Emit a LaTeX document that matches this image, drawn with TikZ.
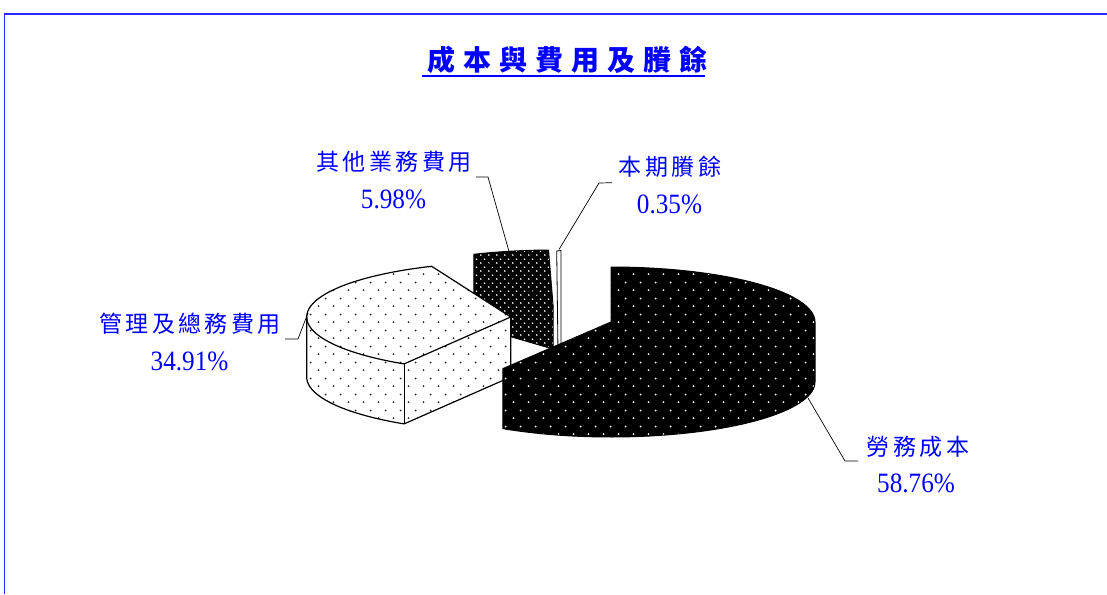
\documentclass[tikz,border=0pt]{standalone}
\usepackage{fontspec}
\usepackage{graphicx}
\usetikzlibrary{patterns,calc}
\newfontfamily\cjkt[LetterSpace=29]{Noto Sans CJK TC}
\newfontfamily\cjkl[LetterSpace=15]{Noto Sans CJK TC}
\newfontfamily\digitfont[FakeStretch=0.9]{Liberation Serif}
\definecolor{lblblue}{RGB}{0,0,255}
\definecolor{frameblue}{RGB}{40,40,255}
\pgfdeclarepatternformonly{sparseDots}{\pgfpointorigin}{\pgfpoint{15pt}{15.6pt}}{\pgfpoint{15pt}{15.6pt}}{%
  \pgfpathcircle{\pgfpoint{3.75pt}{3.9pt}}{1.05pt}%
  \pgfpathcircle{\pgfpoint{11.25pt}{11.7pt}}{1.05pt}%
  \pgfusepath{fill}}
\pgfdeclarepatternformonly{denseDots}{\pgfpointorigin}{\pgfpoint{7.6pt}{7.8pt}}{\pgfpoint{7.6pt}{7.8pt}}{%
  \pgfpathcircle{\pgfpoint{1.9pt}{1.95pt}}{0.95pt}%
  \pgfpathcircle{\pgfpoint{5.7pt}{5.85pt}}{0.95pt}%
  \pgfusepath{fill}}
\begin{document}
\begin{tikzpicture}[x=1pt,y=-1pt,
  lbl/.style={text=lblblue, inner sep=0pt, anchor=base},
  cjklbl/.style={lbl, font=\cjkl\fontsize{23}{23}\selectfont},
  pctlbl/.style={lbl, font=\digitfont\fontsize{28}{28}\selectfont},
  leader/.style={draw=black, line width=0.7pt},
  edge/.style={draw=black, line width=1.2pt, line join=round},
  lightslice/.style={preaction={fill=white}, pattern=sparseDots, pattern color=black!85, draw=black, line width=1.2pt, line join=round},
  darkslice/.style={preaction={fill=black}, pattern=sparseDots, pattern color=white, draw=black, line width=1pt, line join=round},
  otherslice/.style={preaction={fill=black}, pattern=denseDots, pattern color=white, draw=black, line width=1pt, line join=round},
  thinslice/.style={fill=white, draw=black, line width=0.8pt}]
\useasboundingbox (0,0) rectangle (1107,594);
% frame
\coordinate (fbl) at (4.5,594);
\coordinate (ftl) at (4.5,14);
\coordinate (ftr) at (1107,14);
\draw[frameblue, line width=1.3pt] (fbl) -- (ftl) -- (ftr);
% title
\node[lbl, font=\cjkt\bfseries\fontsize{28}{28}\selectfont] (title) at (567.5,70.7) {成本與費用及賸餘};
\coordinate (ul1) at (422,75.5);
\coordinate (ul2) at (705,75.5);
\draw[lblblue, line width=2pt] (ul1) -- (ul2);
% ---- slice: other operating expenses
\def\ox{553}\def\oy{305}
\coordinate (O0) at (\ox,\oy);
\coordinate (O1) at ({\ox+204*cos(91.26)},{\oy-55*sin(91.26)});
\coordinate (O2) at ({\ox+204*cos(112.8)},{\oy-55*sin(112.8)});
\path[otherslice] (O1) -- plot[domain=91.26:112.8,samples=20] ({\ox+204*cos(\x)},{\oy-55*sin(\x)}) -- (474,326) -- (553,349) -- (O0) -- cycle;
\draw[black, line width=0.6pt] (O2) -- (O0);
% ---- slice: surplus (thin)
\coordinate (B1) at (556.7,251);
\coordinate (B2) at (561,250.5);
\coordinate (B3) at (561,352);
\coordinate (B4) at (558,352);
\path[thinslice] (B1) -- (B2) -- (B3) -- (B4) -- cycle;
% ---- slice: administrative expenses (light)
\def\lx{510.7}\def\ly{317}
\coordinate (L0) at (\lx,\ly);
\coordinate (L1) at ({\lx+204*cos(112.8)},{\ly-55*sin(112.8)});
\coordinate (L2) at ({\lx+204*cos(238.5)},{\ly-55*sin(238.5)});
\path[lightslice] (L0) -- (L1) -- plot[domain=112.8:180,samples=40] ({\lx+204*cos(\x)},{\ly-55*sin(\x)}) -- plot[domain=180:238.5,samples=40] ({\lx+204*cos(\x)},{\ly+60-55*sin(\x)}) -- ($(L0)+(0,60)$) -- cycle;
\draw[edge] plot[domain=180:238.5,samples=40] ({\lx+204*cos(\x)},{\ly-55*sin(\x)}) -- (L0);
\draw[edge] (L2) -- ($(L2)+(0,60)$);
% ---- slice: labour cost (dark)
\def\dx{611}\def\dy{322}
\coordinate (D0) at (\dx,\dy);
\coordinate (D1) at (\dx,{\dy-55});
\coordinate (D2) at ({\dx+204*cos(-122)},{\dy-55*sin(-122)});
\path[darkslice] (D0) -- (D1) -- plot[domain=90:0,samples=40] ({\dx+204*cos(\x)},{\dy-55*sin(\x)}) -- plot[domain=0:-122,samples=50] ({\dx+204*cos(\x)},{\dy+60-55*sin(\x)}) -- (D2) -- cycle;
% ---- labels
\node[cjklbl] (n1) at (394,170.7) {其他業務費用};
\node[pctlbl] (p1) at (393.5,208.5) {5.98\%};
\node[cjklbl] (n2) at (670,175.4) {本期賸餘};
\node[pctlbl] (p2) at (669.5,213) {0.35\%};
\node[cjklbl] (n3) at (190,332.4) {管理及總務費用};
\node[pctlbl] (p3) at (189.5,370) {34.91\%};
\node[cjklbl] (n4) at (918,455.4) {勞務成本};
\node[pctlbl] (p4) at (916,492.5) {58.76\%};
% ---- leader lines
\coordinate (a1) at (476,177);
\coordinate (a2) at (488,177);
\coordinate (a3) at (509,251.5);
\draw[leader] (a1) -- (a2) -- (a3);
\coordinate (b1) at (612,182.7);
\coordinate (b2) at (599,183);
\coordinate (b3) at (559,249.5);
\draw[leader] (b1) -- (b2) -- (b3);
\coordinate (c1) at (285,339);
\coordinate (c2) at (298,339);
\coordinate (c3) at (308,313);
\draw[leader] (c1) -- (c2) -- (c3);
\coordinate (d1) at (808,398);
\coordinate (d2) at (845,461);
\coordinate (d3) at (858,461);
\draw[leader] (d1) -- (d2) -- (d3);
\end{tikzpicture}
\end{document}
